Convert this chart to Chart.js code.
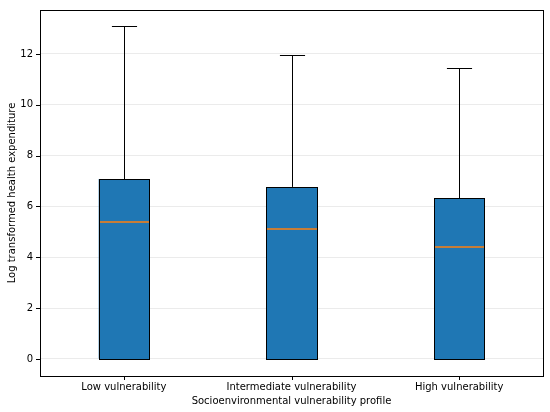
<!DOCTYPE html>
<html>
<head>
<meta charset="utf-8">
<script src="https://cdn.jsdelivr.net/npm/chart.js@4.4.0/dist/chart.umd.min.js"></script>
<style>
  html, body { margin: 0; padding: 0; background: #fff; }
  #wrap { width: 550px; height: 412px; }
</style>
</head>
<body>
<div id="wrap"><canvas id="box-chart" width="550" height="412"></canvas></div>
<script>
// box plot values
var categories = ["Low vulnerability", "Intermediate vulnerability", "High vulnerability"];
var whiskerLow = [0, 0, 0];
var quartile1 = [0, 0, 0];
var medians = [5.39, 5.11, 4.41];
var quartile3 = [7.08, 6.77, 6.33];
var whiskerHigh = [13.10, 11.96, 11.45];
var yTicks = [0, 2, 4, 6, 8, 10, 12];

var boxRanges = categories.map(function(c, i) { return [quartile1[i], quartile3[i]]; });

// whiskers, caps, box edges, medians, frame and tick marks drawn through the scales
var boxExtras = {
    id: "boxExtras",
    beforeDatasetsDraw: function(chart) {
        var ctx = chart.ctx;
        var y = chart.scales.y;
        var meta = chart.getDatasetMeta(0);
        ctx.save();
        ctx.strokeStyle = "#000";
        ctx.lineWidth = 1;
        meta.data.forEach(function(bar, i) {
            var cx = Math.round(bar.x) + 0.5;
            var capHalf = bar.width / 4;
            var pairs = [[quartile3[i], whiskerHigh[i]], [quartile1[i], whiskerLow[i]]];
            pairs.forEach(function(p) {
                var y1 = y.getPixelForValue(p[0]);
                var y2 = Math.round(y.getPixelForValue(p[1])) + 0.5;
                ctx.beginPath();
                ctx.moveTo(cx, y1);
                ctx.lineTo(cx, y2);
                ctx.moveTo(cx - capHalf, y2);
                ctx.lineTo(cx + capHalf, y2);
                ctx.stroke();
            });
        });
        ctx.restore();
    },
    afterDatasetsDraw: function(chart) {
        var ctx = chart.ctx;
        var x = chart.scales.x, y = chart.scales.y;
        var area = chart.chartArea;
        var meta = chart.getDatasetMeta(0);
        ctx.save();
        meta.data.forEach(function(bar, i) {
            var left = Math.round(bar.x - bar.width / 2) + 0.5;
            var right = Math.round(bar.x + bar.width / 2) + 0.5;
            var top = Math.round(y.getPixelForValue(quartile3[i])) + 0.5;
            var bottom = Math.round(y.getPixelForValue(quartile1[i])) + 0.5;
            ctx.fillStyle = bar.options.backgroundColor;
            ctx.fillRect(left, top, right - left, bottom - top);
            ctx.strokeStyle = "#000";
            ctx.lineWidth = 1;
            ctx.strokeRect(left, top, right - left, bottom - top);
            var my = y.getPixelForValue(medians[i]);
            ctx.strokeStyle = "#ff7f0e";
            ctx.lineWidth = 1.5;
            ctx.beginPath();
            ctx.moveTo(left + 0.5, my);
            ctx.lineTo(right - 0.5, my);
            ctx.stroke();
        });
        // frame
        ctx.strokeStyle = "#000";
        ctx.lineWidth = 1;
        ctx.strokeRect(Math.round(area.left) + 0.5, Math.round(area.top) + 0.5,
            Math.round(area.right - area.left), Math.round(area.bottom - area.top));
        // tick marks
        ctx.beginPath();
        yTicks.forEach(function(v) {
            var ty = Math.round(y.getPixelForValue(v)) + 0.5;
            ctx.moveTo(area.left - 4, ty);
            ctx.lineTo(area.left, ty);
        });
        categories.forEach(function(c, i) {
            var tx = Math.round(x.getPixelForValue(i)) + 0.5;
            ctx.moveTo(tx, area.bottom);
            ctx.lineTo(tx, area.bottom + 4);
        });
        ctx.stroke();
        ctx.restore();
    }
};

var ctx = document.getElementById("box-chart").getContext("2d");
var boxChart = new Chart(ctx, {
    type: "bar",
    data: {
        labels: categories,
        datasets: [{
            data: boxRanges,
            backgroundColor: "#1f77b4",
            borderWidth: 0,
            barPercentage: 0.3,
            categoryPercentage: 1
        }]
    },
    options: {
        responsive: false,
        animation: false,
        layout: { padding: { top: 10, right: 7, left: 0, bottom: 0 } },
        plugins: {
            legend: { display: false },
            tooltip: { enabled: false }
        },
        scales: {
            x: {
                offset: true,
                grid: { display: false, drawTicks: false },
                border: { display: false },
                ticks: { color: "#000", font: { family: "DejaVu Sans", size: 10 }, padding: 5, maxRotation: 0 },
                title: {
                    display: true,
                    text: "Socioenvironmental vulnerability profile",
                    color: "#000",
                    font: { family: "DejaVu Sans", size: 10 },
                    padding: { top: 0, bottom: 5 }
                },
                afterFit: function(scale) {
                    scale.height = 36;
                    scale.paddingLeft = 0;
                    scale.paddingRight = 0;
                }
            },
            y: {
                min: -0.67,
                max: 13.73,
                afterBuildTicks: function(scale) {
                    scale.ticks = yTicks.map(function(v) { return { value: v }; });
                },
                grid: { color: "rgba(0,0,0,0.08)", drawTicks: false },
                border: { display: false },
                ticks: { color: "#000", font: { family: "DejaVu Sans", size: 10 }, padding: 7 },
                title: {
                    display: true,
                    text: "Log transformed health expenditure",
                    color: "#000",
                    font: { family: "DejaVu Sans", size: 10 },
                    padding: { top: 6, bottom: 4 }
                },
                afterFit: function(scale) {
                    scale.width = 40;
                    scale.paddingTop = 0;
                    scale.paddingBottom = 0;
                }
            }
        }
    },
    plugins: [boxExtras]
});
</script>
</body>
</html>
